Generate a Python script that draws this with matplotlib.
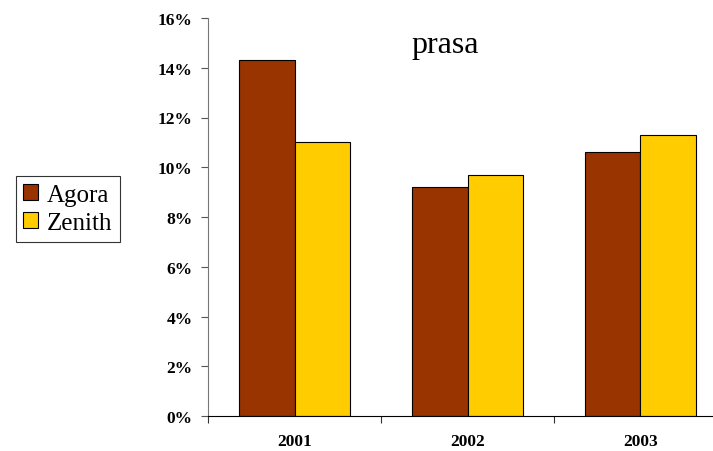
import matplotlib
matplotlib.use("Agg")
import matplotlib.pyplot as plt
import numpy as np
from matplotlib.ticker import FixedLocator, PercentFormatter

categories = ["2001", "2002", "2003"]
agora = [14.3, 9.2, 10.6]
zenith = [11.0, 9.7, 11.3]
series_names = ["Agora", "Zenith"]
colors = ["#993300", "#FFCC00"]
title = "prasa"

plt.rcParams['font.family'] = ['Liberation Serif', 'DejaVu Serif']

fig = plt.figure(figsize=(7.13, 4.52), dpi=100)
ax = fig.add_axes([208/713, 35/452, (713-208)/713, (417-19)/452])

x = np.arange(len(categories))
w = 0.318
b1 = ax.bar(x - w/2, agora, w, color=colors[0], edgecolor="black", linewidth=0.8, label=series_names[0])
b2 = ax.bar(x + w/2, zenith, w, color=colors[1], edgecolor="black", linewidth=0.8, label=series_names[1])

ax.set_ylim(0, 16)
ax.set_xlim(-0.5, (713-294.5)/173)
ax.set_yticks(np.arange(0, 17, 2))
ax.yaxis.set_major_formatter(PercentFormatter(decimals=0))
ax.xaxis.set_major_locator(FixedLocator([-0.5, 0.5, 1.5, 2.5]))
ax.xaxis.set_major_formatter(plt.NullFormatter())
ax.xaxis.set_minor_locator(FixedLocator(list(x)))
ax.set_xticklabels(categories, minor=True)
ax.tick_params(axis='x', which='minor', length=0, pad=12, labelsize=12.5)
ax.tick_params(axis='x', which='major', length=5, direction='out', color='#333333')
ax.tick_params(axis='y', length=5, direction='out', pad=6, labelsize=12.5, color='#555555')
for lab in ax.get_yticklabels() + ax.get_xticklabels(minor=True):
    lab.set_fontweight('bold')

for s in ['top', 'right']:
    ax.spines[s].set_visible(False)
ax.spines['left'].set_color('#777777')
ax.spines['bottom'].set_color('black')

fig.text(445/713, 1 - 45/452, title, ha='center', va='center', fontsize=23)

leg = fig.legend(handles=[b1, b2], labels=series_names, loc='center', bbox_to_anchor=(68/713, 1 - 210/452),
                 fontsize=18, frameon=True, fancybox=False, edgecolor='black', handlelength=0.6, handleheight=0.6,
                 handletextpad=0.35, borderpad=0.3, labelspacing=0.25, borderaxespad=0)
leg.get_frame().set_linewidth(0.8)

fig.savefig("out.png", dpi=100)
